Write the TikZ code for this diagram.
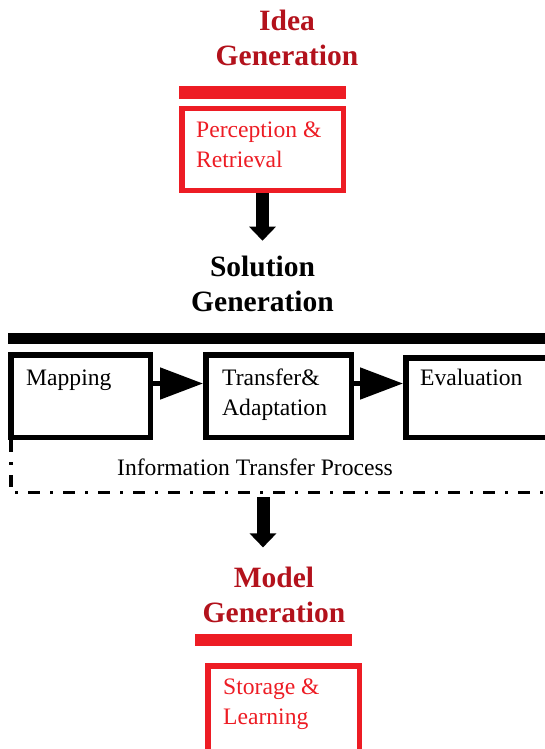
\documentclass[tikz,border=0pt]{standalone}
\usepackage{fontspec}
\setmainfont{Liberation Serif}
\usetikzlibrary{arrows.meta}
\definecolor{titlered}{HTML}{B3121C}
\definecolor{brightred}{HTML}{ED1C24}
\tikzset{
  titletext/.style={font=\fontsize{29.5}{35}\selectfont\bfseries, align=center, inner sep=0pt},
  bodytext/.style={font=\fontsize{23.6}{30}\selectfont, align=left, inner sep=0pt},
  redbox/.style={draw=brightred, line width=5.5pt, inner sep=0pt},
  blackbox/.style={draw=black, line width=5.5pt, inner sep=0pt},
  bigdown/.style={line width=13pt, -{Triangle[width=26pt,length=14pt]}},
  sidearrow/.style={line width=5pt, -{Triangle[width=31pt,length=43pt]}},
  dashdot/.style={line width=3.5pt, dash pattern=on 12pt off 10pt on 3pt off 10pt}
}
\begin{document}
\begin{tikzpicture}[x=1pt,y=-1pt]
\useasboundingbox (0,0) rectangle (544,749);
% Idea generation
\node[titletext, text=titlered] (idea) at (287,37.5) {Idea\\Generation};
\fill[brightred] (179,86) rectangle (346,99);
\node[redbox, minimum width=161.5pt, minimum height=81.5pt] (pr) at (262.5,149.5) {};
\node[bodytext, text=brightred, anchor=west] (prt) at (196,145) {Perception \&\\Retrieval};
% Solution generation
\node[titletext] (sol) at (262.5,283.8) {Solution\\Generation};
\draw[bigdown, shorten >=15pt] (pr.south) -- (pr.south |- sol.north);
\fill[black] (8,333) rectangle (560,344);
\node[blackbox, minimum width=139.5pt, minimum height=82.5pt] (map) at (80.5,396) {};
\node[bodytext, anchor=base west] (mapt) at (26,385) {Mapping};
\node[blackbox, minimum width=145.5pt, minimum height=82.5pt] (tr) at (278.5,396) {};
\node[bodytext, anchor=west] (trt) at (222,394.4) {Transfer\&\\Adaptation};
\node[blackbox, minimum width=200pt, minimum height=79.5pt] (ev) at (505.75,397.5) {};
\node[bodytext, anchor=base west] (evt) at (420,385) {Evaluation};
\draw[sidearrow] ([yshift=12.5pt]map.east) -- ([yshift=12.5pt]map.east -| tr.west);
\draw[sidearrow] ([yshift=12.5pt]tr.east) -- ([yshift=12.5pt]tr.east -| ev.west);
% Information transfer frame
\coordinate (fb) at (263,492.5);
\draw[dashdot] ([xshift=2.75pt]map.south west) -- ([xshift=2.75pt]map.south west |- fb) -- (560,492.5);
\node[bodytext, anchor=base west] (itp) at (117,475) {Information Transfer Process};
% Model generation
\node[titletext, text=titlered] (mod) at (274,594.5) {Model\\Generation};
\draw[bigdown, shorten <=4.5pt, shorten >=19pt] (fb) -- (fb |- mod.north);
\fill[brightred] (195,634) rectangle (352,646);
\node[redbox, minimum width=151.5pt, minimum height=134pt] (sl) at (283.5,732.75) {};
\node[bodytext, text=brightred, anchor=west] (slt) at (223,704.5) {Storage \&\\Learning};
\end{tikzpicture}
\end{document}
